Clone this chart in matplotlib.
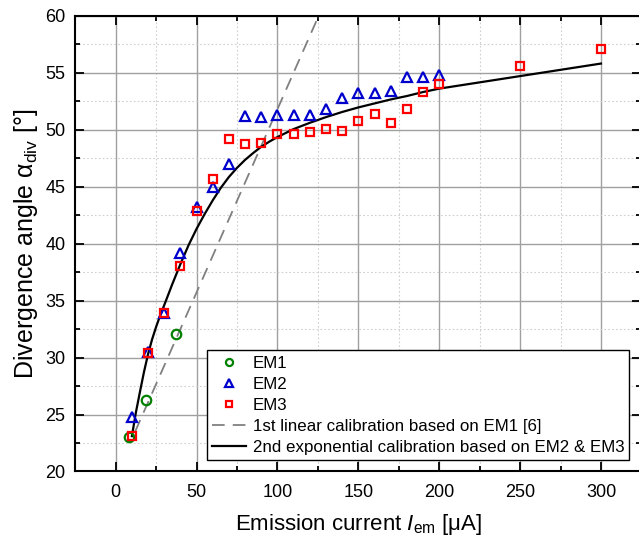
import matplotlib
matplotlib.use("Agg")
import matplotlib.pyplot as plt
from matplotlib.ticker import MultipleLocator

plt.rcParams['font.family'] = ['Liberation Sans', 'DejaVu Sans']
plt.rcParams['mathtext.fontset'] = 'custom'
plt.rcParams['mathtext.rm'] = 'Liberation Sans'
plt.rcParams['mathtext.it'] = 'Liberation Sans:italic'

# EM1 measurements
em1_x = [8.5, 18.5, 37.0]
em1_y = [23.0, 26.3, 32.1]

# EM2 measurements
em2_x = [10, 20, 30, 40, 50, 60, 70, 80, 90, 100, 110, 120, 130, 140, 150,
         160, 170, 180, 190, 200]
em2_y = [24.8, 30.5, 33.9, 39.2, 43.2, 45.0, 47.0, 51.2, 51.1, 51.3, 51.3,
         51.3, 51.8, 52.8, 53.2, 53.2, 53.4, 54.6, 54.6, 54.8]

# EM3 measurements
em3_x = [10, 20, 30, 40, 50, 60, 70, 80, 90, 100, 110, 120, 130, 140, 150,
         160, 170, 180, 190, 200, 250, 300]
em3_y = [23.15, 30.4, 33.9, 38.0, 42.9, 45.7, 49.2, 48.7, 48.8, 49.6, 49.6,
         49.8, 50.1, 49.9, 50.8, 51.4, 50.6, 51.8, 53.3, 54.0, 55.6, 57.1]

# 1st linear calibration (end points)
lin_x = [12.0, 125.5]
lin_y = [23.5, 60.0]

# 2nd exponential calibration
exp_x = [10, 12.5, 15, 17.5, 20, 22.5, 25, 27.5, 30, 35, 40, 45, 50, 55, 60,
         65, 70, 75, 80, 85, 90, 95, 100, 110, 120, 130, 140, 150, 160, 170,
         180, 190, 200, 225, 250, 275, 300]
exp_y = [23.1, 25.2, 27.0, 28.75, 30.3, 31.6, 32.7, 33.7, 34.6, 36.45, 38.2,
         39.85, 41.3, 42.6, 43.8, 44.9, 45.85, 46.65, 47.35, 47.95, 48.5,
         48.95, 49.35, 50.05, 50.6, 51.1, 51.55, 51.95, 52.3, 52.65, 52.95,
         53.3, 53.6, 54.15, 54.7, 55.25, 55.8]

x_ticks = [0, 50, 100, 150, 200, 250, 300]
y_ticks = [20, 25, 30, 35, 40, 45, 50, 55, 60]

fig = plt.figure(figsize=(6.39, 5.45), dpi=100)
ax = fig.add_axes([0.1178, 0.1349, 0.886, 0.8363])

ax.set_xlim(-25, 325)
ax.set_ylim(20, 60)
ax.set_xticks(x_ticks)
ax.set_yticks(y_ticks)
ax.xaxis.set_minor_locator(MultipleLocator(25))
ax.yaxis.set_minor_locator(MultipleLocator(2.5))

ax.grid(which='major', color='#a0a0a0', linewidth=1.0, zorder=0)
ax.grid(which='minor', color='#cfcfcf', linewidth=0.8, linestyle=(0, (1.5, 2)), zorder=0)
ax.set_axisbelow(True)

ax.tick_params(which='both', direction='in', top=True, right=True, width=1.3,
               labelsize=13, colors='black')
ax.tick_params(which='major', length=6.5)
ax.tick_params(which='minor', length=3.4)
ax.tick_params(axis='y', pad=7)
ax.tick_params(axis='x', pad=9)
for s in ax.spines.values():
    s.set_linewidth(1.5)

ax.plot(em1_x, em1_y, linestyle='none', marker='o', ms=6.8, mfc='none',
        mec='#008000', mew=1.6, label='EM1', zorder=4)
ax.plot(em2_x, em2_y, linestyle='none', marker='^', ms=7.8, mfc='none',
        mec='#0000cc', mew=1.6, label='EM2', zorder=4)
ax.plot(em3_x, em3_y, linestyle='none', marker='s', ms=6.2, mfc='none',
        mec='#ff0000', mew=1.6, label='EM3', zorder=4)
ax.plot(lin_x, lin_y, color='#808080', linestyle=(0, (7, 4.5)), linewidth=1.3,
        label='1st linear calibration based on EM1 [6]', zorder=3)
ax.plot(exp_x, exp_y, color='black', linewidth=1.6,
        label='2nd exponential calibration based on EM2 & EM3', zorder=3)

leg = ax.legend(loc='lower right', bbox_to_anchor=(0.9785, 0.0252),
                borderaxespad=0, fontsize=12.2, handlelength=2.0,
                handletextpad=0.4, borderpad=0.3, labelspacing=0.36,
                fancybox=False, framealpha=1, edgecolor='black',
                markerscale=0.75)
leg.get_frame().set_linewidth(1.0)
leg.set_zorder(5)

ax.set_xlabel(r'Emission current $I_\mathregular{em}$ [μA]', fontsize=16, labelpad=8)
ax.set_ylabel(r'Divergence angle α$_\mathregular{div}$ [°]', fontsize=18, labelpad=4)

fig.savefig('out.png', dpi=100)
